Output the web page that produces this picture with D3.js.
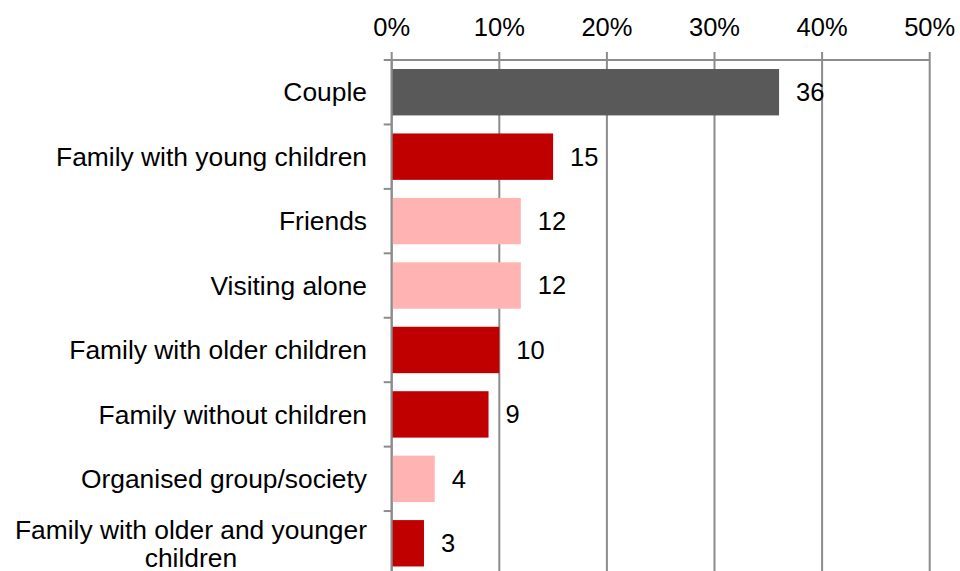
<!DOCTYPE html>
<html>
<head>
<meta charset="utf-8">
<script src="https://cdn.jsdelivr.net/npm/d3@7"></script>
<style>
    body { margin: 0; background: #fff; }
    text { font-family: "Liberation Sans", Arial, sans-serif; fill: #000; }
</style>
</head>
<body>
<div id="chart"></div>
<script>
const categories = [
    "Couple",
    "Family with young children",
    "Friends",
    "Visiting alone",
    "Family with older children",
    "Family without children",
    "Organised group/society",
    "Family with older and younger children"
]
const values = [36, 15, 12, 12, 10, 9, 4, 3]
const groups = ["couple", "family", "other", "other", "family", "family", "other", "family"]
const xTicks = [0, 10, 20, 30, 40, 50]

const svgWidth = 960, svgHeight = 571
const fontSize = 26.4

const svg = d3.select("#chart")
    .append("svg")
    .attr("width", svgWidth)
    .attr("height", svgHeight)

// x scale: 0% at 391.7, 50% at 929.7
const xScale = d3.scaleLinear()
    .domain([0, 50])
    .range([391.7, 929.7])

// band scale runs past the bottom of the picture (chart is cropped)
const yScale = d3.scaleBand()
    .domain(categories)
    .range([60, 575.5])
    .paddingInner(0.28)
    .paddingOuter(0.14)

const colour = d3.scaleOrdinal()
    .domain(["couple", "family", "other"])
    .range(["#595959", "#C00000", "#FFB3B3"])

const gridColour = "#8c8c8c"

// vertical gridlines + top ticks
svg.append("g")
    .selectAll("line")
    .data(xTicks)
    .enter()
    .append("line")
    .attr("x1", d => xScale(d))
    .attr("x2", d => xScale(d))
    .attr("y1", 52)
    .attr("y2", svgHeight)
    .attr("stroke", gridColour)
    .attr("stroke-width", 2)

// top axis line
svg.append("line")
    .attr("x1", xScale(0))
    .attr("x2", xScale(50))
    .attr("y1", 60)
    .attr("y2", 60)
    .attr("stroke", gridColour)
    .attr("stroke-width", 2)

// tick labels
svg.append("g")
    .selectAll("text")
    .data(xTicks)
    .enter()
    .append("text")
    .attr("x", d => xScale(d))
    .attr("y", 36)
    .attr("text-anchor", "middle")
    .attr("font-size", 25.5)
    .text(d => d + "%")

// category boundary ticks on the left axis
const step = yScale.step()
const boundaries = d3.range(categories.length + 1).map(i => 60 + i * step)
svg.append("g")
    .selectAll("line")
    .data(boundaries)
    .enter()
    .append("line")
    .attr("x1", xScale(0) - 8)
    .attr("x2", xScale(0))
    .attr("y1", d => d)
    .attr("y2", d => d)
    .attr("stroke", gridColour)
    .attr("stroke-width", 2)

// bars
svg.append("g")
    .selectAll("rect")
    .data(categories)
    .enter()
    .append("rect")
    .attr("x", xScale(0))
    .attr("y", d => yScale(d))
    .attr("width", (d, i) => xScale(values[i]) - xScale(0))
    .attr("height", yScale.bandwidth())
    .attr("fill", (d, i) => colour(groups[i]))

// left axis line
svg.append("line")
    .attr("x1", xScale(0))
    .attr("x2", xScale(0))
    .attr("y1", 60)
    .attr("y2", svgHeight)
    .attr("stroke", gridColour)
    .attr("stroke-width", 2)

// value labels
svg.append("g")
    .selectAll("text")
    .data(categories)
    .enter()
    .append("text")
    .attr("x", (d, i) => xScale(values[i]) + 17)
    .attr("y", d => yScale(d) + yScale.bandwidth() / 2)
    .attr("dy", "0.35em")
    .attr("font-size", 25.5)
    .text((d, i) => values[i])

// category labels, the long one wraps onto two centred lines
const labelRight = 367
categories.forEach(c => {
    const cy = yScale(c) + yScale.bandwidth() / 2
    if (c === "Family with older and younger children") {
        const t = svg.append("text")
            .attr("font-size", fontSize)
            .attr("text-anchor", "middle")
        const lines = ["Family with older and younger", "children"]
        t.append("tspan").text(lines[0])
        const w = t.node().getComputedTextLength()
        t.attr("x", labelRight - w / 2).attr("y", cy)
        t.select("tspan").attr("x", labelRight - w / 2).attr("dy", "-0.18em")
        t.append("tspan").attr("x", labelRight - w / 2).attr("dy", "1.08em").text(lines[1])
    } else {
        svg.append("text")
            .attr("x", labelRight)
            .attr("y", cy)
            .attr("dy", "0.35em")
            .attr("text-anchor", "end")
            .attr("font-size", fontSize)
            .text(c)
    }
})
</script>
</body>
</html>
